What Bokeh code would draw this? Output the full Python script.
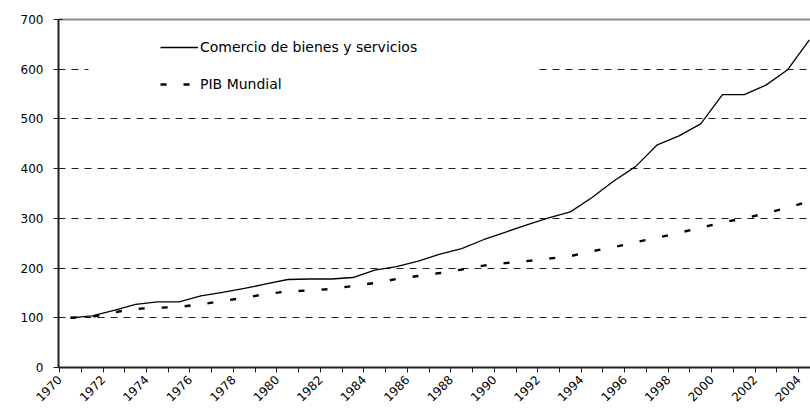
import math
from bokeh.plotting import figure
from bokeh.models import (Range1d, FixedTicker, LinearAxis, Legend, LegendItem,
                          BoxAnnotation)
from bokeh.embed import file_html
from bokeh.resources import INLINE

# ---- data -------------------------------------------------------------
years = list(range(1970, 2005))
comercio = [100, 104, 115, 127, 132, 132, 144, 151, 159, 168, 177, 178, 178,
            181, 196, 203, 214, 228, 239, 257, 272, 287, 301, 313, 342, 375,
            404, 448, 466, 490, 549, 549, 568, 599, 659]
pib = [100, 102, 111, 118, 120, 122, 127, 134, 140, 148, 153, 155, 158, 164,
       170, 178, 184, 190, 197, 205, 210, 214, 219, 224, 234, 242, 252, 261,
       271, 281, 292, 300, 310, 322, 334]
tick_labels = ["1970", "1972", "1974", "1976", "1978", "1980", "1982", "1984",
               "1986", "1988", "1990", "1992", "1994", "1996", "1998", "2000",
               "2002", "2004"]
y_ticks = [0, 100, 200, 300, 400, 500, 600, 700]
grid_levels = [100, 200, 300, 400, 500, 600]
series_names = ["Comercio de bienes y servicios", "PIB Mundial"]

FONT = "DejaVu Sans"

p = figure(width=810, height=410, output_backend="svg", toolbar_location=None,
           x_range=Range1d(1969.45, 2004.05), y_range=Range1d(0, 700),
           min_border_left=58, min_border_right=0, min_border_top=19,
           min_border_bottom=43)
p.outline_line_color = None
p.background_fill_color = "white"
p.border_fill_color = "white"

r1 = p.line(years, comercio, line_color="black", line_width=1.3)
r2 = p.line(years, pib, line_color="black", line_width=2.4, line_dash="6 17")

# x axis: ticks on category boundaries, labels every second year
boundaries = [y - 0.5 for y in years]
overrides = {}
for y, b in zip(years, boundaries):
    overrides[b] = str(y) if str(y) in tick_labels else ""
xa = p.xaxis[0]
xa.ticker = FixedTicker(ticks=boundaries)
xa.major_label_overrides = overrides
xa.major_label_orientation = math.pi / 4
xa.major_tick_out = 5
xa.major_tick_in = 0
xa.minor_tick_line_color = None
xa.axis_line_color = "#222222"
xa.axis_line_width = 2
xa.major_tick_line_color = "#222222"
xa.major_label_text_font = FONT
xa.major_label_text_font_size = "12px"
xa.major_label_text_color = "black"
xa.major_label_standoff = 5
p.xgrid.visible = False

ya = p.yaxis[0]
ya.ticker = FixedTicker(ticks=y_ticks)
ya.major_tick_out = 5
ya.major_tick_in = 4
ya.minor_tick_line_color = None
ya.axis_line_color = "#222222"
ya.axis_line_width = 2
ya.major_tick_line_color = "#222222"
ya.major_label_text_font = FONT
ya.major_label_text_font_size = "12px"
ya.major_label_text_color = "black"
ya.major_label_standoff = 10

p.ygrid.ticker = FixedTicker(ticks=grid_levels)
p.ygrid.grid_line_color = "#222222"
p.ygrid.grid_line_dash = "7 6"
p.ygrid.grid_line_width = 1

top_axis = LinearAxis(ticker=FixedTicker(ticks=[]), axis_line_color="#8a8a8a",
                      axis_line_width=2, major_tick_line_color=None,
                      minor_tick_line_color=None,
                      major_label_text_font_size="0px")
p.add_layout(top_axis, "above")

mask = BoxAnnotation(left=30, right=480, top=338, bottom=263,
                     left_units="screen", right_units="screen",
                     top_units="screen", bottom_units="screen",
                     fill_color="white", fill_alpha=1, line_color=None)
p.add_layout(mask)

legend = Legend(items=[LegendItem(label=series_names[0], renderers=[r1]),
                       LegendItem(label=series_names[1], renderers=[r2])],
                location=(102, 273), padding=0, spacing=17, margin=0,
                glyph_width=38, glyph_height=20, label_height=20,
                label_standoff=2, background_fill_alpha=0,
                border_line_alpha=0, label_text_font=FONT,
                label_text_font_size="14px", label_text_color="black")
p.add_layout(legend)

open("out.html", "w").write(file_html(p, INLINE))
